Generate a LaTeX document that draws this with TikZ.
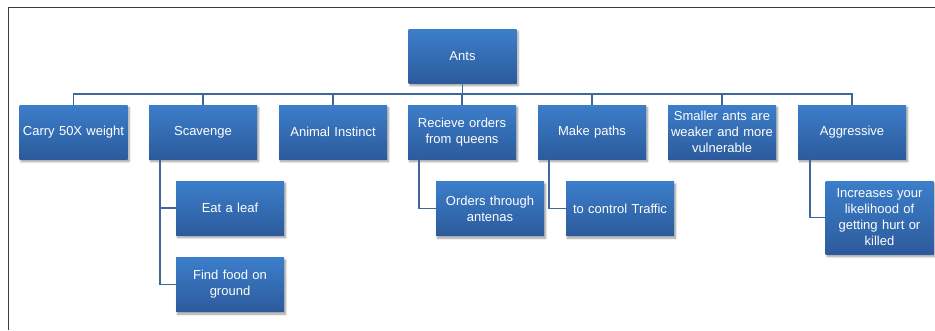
\documentclass[tikz,border=0pt]{standalone}
\usepackage{fontspec}
\setmainfont{Liberation Sans}
\usetikzlibrary{shadows.blur}
\definecolor{boxtop}{RGB}{60,126,202}
\definecolor{boxbot}{RGB}{44,91,156}
\definecolor{linkc}{RGB}{62,104,156}
\definecolor{framec}{RGB}{60,60,60}
\tikzset{
  box/.style={rectangle, minimum width=108pt, minimum height=54pt, inner sep=0pt,
    text width=106pt, align=center, text=white, top color=boxtop, bottom color=boxbot,
    draw=none, font=\fontsize{13}{16}\selectfont, yshift=-1pt,
    blur shadow={shadow blur steps=6, shadow xshift=1.5pt, shadow yshift=-2.5pt, shadow opacity=40}},
  link/.style={draw=linkc, line width=1.5pt},
  framel/.style={draw=framec, line width=1.5pt}
}
\begin{document}
\begin{tikzpicture}[x=1pt,y=-1pt]
\useasboundingbox (0,0) rectangle (935,330);
% outer frame (top and left edges)
\draw[framel] (8.5,330) -- (8.5,7.5) -- (935,7.5);

% root
\node[box] (ants) at (462.5,55) {Ants};

% first level
\node[box] (carry) at (73.5,131) {Carry 50X weight};
\node[box] (scav)  at (203,131) {Scavenge};
\node[box] (inst)  at (333,131) {Animal Instinct};
\node[box] (orders) at (462,131) {Recieve orders\\from queens};
\node[box] (paths) at (592,131) {Make paths};
\node[box] (small) at (722,131) {Smaller ants are\\weaker and more\\vulnerable};
\node[box] (aggr)  at (852,131) {Aggressive};

% second level
\node[box] (leaf)    at (230,207) {Eat a leaf};
\node[box] (food)    at (230,283.5) {Find food on\\ground};
\node[box] (antenas) at (490,207.5) {Orders through\\antenas};
\node[box] (traffic) at (620,207.5) {to control Traffic};
\node[box, minimum height=73pt] (hurt) at (879.5,216.5) {Increases your\\likelihood of\\getting hurt or\\killed};

% root to first level
\foreach \c in {carry,scav,inst,orders,paths,small,aggr}
  \draw[link] (ants.south) -- ++(0,11) -| (\c.north);

% first level to second level
\draw[link] ([xshift=11pt]scav.south west) |- (leaf.west);
\draw[link] ([xshift=11pt]scav.south west) |- (food.west);
\draw[link] ([xshift=11pt]orders.south west) |- (antenas.west);
\draw[link] ([xshift=11pt]paths.south west) |- (traffic.west);
\draw[link] ([xshift=12pt]aggr.south west) |- (hurt.west);
\end{tikzpicture}
\end{document}
